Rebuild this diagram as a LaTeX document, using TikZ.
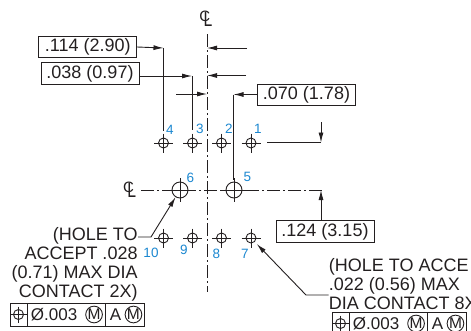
\documentclass[tikz,border=0pt]{standalone}
\usepackage{fontspec}
\setmainfont{Liberation Sans}
\usetikzlibrary{arrows.meta,calc,positioning}
\definecolor{ink}{HTML}{231F20}
\definecolor{numblue}{HTML}{1B87D0}
\tikzset{
    -{Latex[length=10pt,width=5pt]},auto,semithick,
    x=1pt,y=-1pt,
    every path/.style={color=ink,line width=0.9pt},
    plain/.style={-},
    dim/.style={draw, inner sep=0pt, minimum width=98pt, minimum height=21.5pt, text=ink, font=\fontsize{18}{19}\selectfont},
    note/.style={inner sep=0pt, text=ink, font=\fontsize{18}{19}\selectfont},
    num/.style={inner sep=0pt, text=numblue, font=\fontsize{13.5}{14}\selectfont},
    hole/.style={circle, draw, inner sep=0pt, minimum size=10pt},
    bighole/.style={circle, draw, inner sep=0pt, minimum size=16pt},
    center line/.style={-, dash pattern=on 13pt off 3pt on 2pt off 3pt},
    cell/.style={draw, inner sep=0pt, minimum height=23pt},
    cmark/.style={circle, draw, inner sep=0pt, minimum size=16.5pt, text=ink, font=\fontsize{15.5}{16}\selectfont},
    fcf/.style={inner sep=0pt, text=ink, font=\fontsize{17}{18}\selectfont}
}
\newcommand{\hairs}[2]{\draw[plain] (#1.center)+(-#2,0) -- +(#2,0) (#1.center)+(0,-#2) -- +(0,#2);}
\newcommand{\clmark}[3]{
    \node[inner sep=0pt, text=ink, font=\fontsize{15}{15}\selectfont] (#1c) at (#2,#3-2.5) {C};
    \node[inner sep=0pt, text=ink, xscale=0.75, font=\fontsize{21}{21}\selectfont] (#1l) at (#2+3.2,#3) {L};
}
\newcommand{\fcfblock}[3]{
    \node[cell, minimum width=17pt] (#1a) at (#2,#3) {};
    \node[cell, minimum width=78pt, right=-0.5pt of #1a] (#1b) {};
    \node[cell, minimum width=38.5pt, right=-0.5pt of #1b] (#1c) {};
    \node[hole] (#1h) at (#1a) {};
    \hairs{#1h}{8}
    \node[fcf, anchor=west] (#1t) at ($(#1b.west)+(3.5,0)$) {Ø.003};
    \node[cmark, anchor=east] (#1m) at ($(#1b.east)+(-3,0)$) {M};
    \node[fcf, anchor=west] (#1x) at ($(#1c.west)+(4,0)$) {A};
    \node[cmark, anchor=east] (#1y) at ($(#1c.east)+(-2.5,0)$) {M};
}

\begin{document}
\begin{tikzpicture}
    \useasboundingbox (0,0) rectangle (471,330);

    % center lines
    \coordinate (vtop) at (207,34);
    \coordinate (vbot) at (207,292);
    \coordinate (hleft) at (141,190);
    \coordinate (hright) at (322,190);
    \draw[center line] (vtop) -- (vbot);
    \draw[center line] (hleft) -- (hright);
    \clmark{ct}{204.7}{19}
    \clmark{cl}{128.5}{190}

    % holes
    \node[hole] (h4) at (163.5,143) {};
    \node[hole] (h3) at (192.5,143) {};
    \node[hole] (h2) at (221.5,143) {};
    \node[hole] (h1) at (251,143) {};
    \node[bighole, fill=white] (h6) at (180,190) {};
    \node[bighole, fill=white] (h5) at (234,190) {};
    \node[hole] (h10) at (163.5,238) {};
    \node[hole] (h9) at (192.5,238) {};
    \node[hole] (h8) at (221.5,238) {};
    \node[hole] (h7) at (251,238) {};
    \hairs{h4}{9.5} \hairs{h3}{9.5} \hairs{h2}{9.5} \hairs{h1}{9.5}
    \hairs{h10}{9.5} \hairs{h9}{9.5} \hairs{h8}{9.5} \hairs{h7}{9.5}
    \hairs{h6}{12} \hairs{h5}{12}

    \node[num] (n4) at (170,130) {4};
    \node[num] (n3) at (200,128.5) {3};
    \node[num] (n2) at (229,128.5) {2};
    \node[num] (n1) at (258,129) {1};
    \node[num] (n6) at (190.5,178) {6};
    \node[num] (n5) at (247.5,177) {5};
    \node[num] (n10) at (151,252.5) {10};
    \node[num] (n9) at (184,250) {9};
    \node[num] (n8) at (216.5,254) {8};
    \node[num] (n7) at (245,253.5) {7};

    % dimensions
    \node[dim] (d114) at (87.7,47) {.114 (2.90)};
    \node[dim] (d038) at (90,73.5) {.038 (0.97)};
    \node[dim] (d070) at (306.5,95) {.070 (1.78)};
    \node[dim] (d124) at (325,231.5) {.124 (3.15)};

    \coordinate (a114) at (163.5,48);
    \coordinate (a038) at (192,76);
    \coordinate (a070) at (233.5,94.5);
    \coordinate (b114) at (163.5,131);
    \coordinate (b038) at (192,130);
    \coordinate (b070) at (233.5,180);
    \coordinate (c1) at (207,48);
    \coordinate (c2) at (247,48);
    \coordinate (c3) at (207,75.5);
    \coordinate (c4) at (246,75.5);
    \coordinate (c5) at (176,94);
    \coordinate (c6) at (207,94);
    \coordinate (c7) at (321,142.5);
    \coordinate (c8) at (321,122);
    \coordinate (c9) at (321,190);

    \draw (d114.east) -- (a114);
    \draw (d038.east |- a038) -- (a038);
    \draw (d070.west |- a070) -- (a070);
    \draw[plain] (a114) -- (b114);
    \draw[plain] (a038) -- (b038);
    \draw[plain] (a070) -- (b070);
    \draw (c2) -- (c1);
    \draw (c4) -- (c3);
    \draw (c5) -- (c6);
    \draw (c8) -- (c7);
    \draw[plain, shorten <=16pt] (h1.center |- c7) -- (c7);
    \draw (d124.north -| c9) -- (c9);

    % hole notes
    \node[note, anchor=north east, align=right] (t1) at (138,227) {(HOLE TO\\ACCEPT .028\\(0.71) MAX DIA\\CONTACT 2X)};
    \node[note, anchor=north west, align=left] (t2) at (328.5,258) {(HOLE TO ACCE\\.022 (0.56) MAX\\DIA CONTACT 8X};
    \coordinate (e1) at (151,237);
    \coordinate (e2) at (306,295);
    \draw (e1 -| t1.east) -- (e1) -- (h6);
    \draw[shorten >=3pt] (e2 -| t2.west) -- (e2) -- (h7);

    % frames
    \fcfblock{fa}{18.5}{314.5}
    \fcfblock{fb}{340.5}{323.5}
\end{tikzpicture}
\end{document}
